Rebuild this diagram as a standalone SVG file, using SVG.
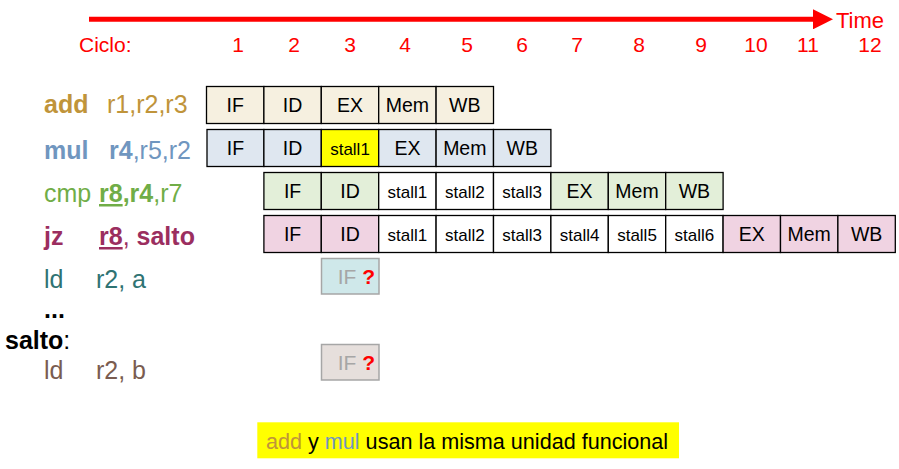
<svg xmlns="http://www.w3.org/2000/svg" width="899" height="469" viewBox="0 0 899 469">
<style>
text{font-family:"Liberation Sans",Arial,sans-serif}
.cyc{fill:#ff0000;font-size:21px;text-anchor:middle}
.ins{font-size:25px}
.b{font-weight:bold}
.u{text-decoration:underline}
.cell{stroke:#000;stroke-width:1.3}
.ct{font-size:19.5px;text-anchor:middle;fill:#000}
.st{font-size:17px;text-anchor:middle;fill:#000}
.qbox{stroke:#a6a6a6;stroke-width:1.5}
.qt{font-size:21px;fill:#a6a6a6;text-anchor:end}
.a{fill:#fff}
.c-add{fill:#f6f0e0}
.c-mul{fill:#dfe7f0}
.c-cmp{fill:#e3efd9}
.c-jz{fill:#f0d3e2}
</style>
<defs>
<marker id="ah" markerWidth="4" markerHeight="4" refX="0" refY="2" orient="auto" markerUnits="strokeWidth">
<path d="M0,0 L4,2 L0,4 Z" fill="#ff0000"/>
</marker>
</defs>
<g id="timeline">
<line x1="89" y1="19.3" x2="813" y2="19.3" stroke="#ff0000" stroke-width="5" marker-end="url(#ah)"/>
<text x="836" y="27.5" fill="#ff0000" font-size="22">Time</text>
<text x="79" y="51.5" fill="#ff0000" font-size="21">Ciclo:</text>
<text class="cyc" x="238" y="51.5">1</text>
<text class="cyc" x="294" y="51.5">2</text>
<text class="cyc" x="350" y="51.5">3</text>
<text class="cyc" x="405" y="51.5">4</text>
<text class="cyc" x="467" y="51.5">5</text>
<text class="cyc" x="522" y="51.5">6</text>
<text class="cyc" x="577" y="51.5">7</text>
<text class="cyc" x="639" y="51.5">8</text>
<text class="cyc" x="701" y="51.5">9</text>
<text class="cyc" x="756" y="51.5">10</text>
<text class="cyc" x="808" y="51.5">11</text>
<text class="cyc" x="870" y="51.5">12</text>
</g>
<g id="instr-add">
<text class="ins" x="44" y="113" fill="#c0943a"><tspan class="b">add</tspan><tspan x="107">r1,r2,r3</tspan></text>
</g>
<g id="instr-mul">
<text class="ins" x="44" y="159" fill="#7096bf"><tspan class="b">mul</tspan><tspan x="109" class="b">r4</tspan>,r5,r2</text>
</g>
<g id="instr-cmp">
<text class="ins" x="44" y="202" fill="#70ad47">cmp <tspan x="99" class="b u">r8</tspan><tspan class="b">,r4</tspan>,r7</text>
</g>
<g id="instr-jz">
<text class="ins" x="44" y="245" fill="#9b2e5f"><tspan class="b">jz</tspan><tspan x="99" class="b u">r8</tspan>, <tspan class="b">salto</tspan></text>
</g>
<g id="instr-ld-a">
<text class="ins" x="44" y="288" fill="#2f7373">ld<tspan x="96">r2, a</tspan></text>
</g>
<g id="dots">
<text class="ins b" x="44" y="318" fill="#000">...</text>
</g>
<g id="label-salto">
<text class="ins" x="5" y="349" fill="#000"><tspan class="b">salto</tspan>:</text>
</g>
<g id="instr-ld-b">
<text class="ins" x="44" y="379" fill="#7a5c50">ld<tspan x="96">r2, b</tspan></text>
</g>
<g id="pipe-add">
<rect class="cell c-add" x="206.5" y="86.5" width="57.4" height="37"/>
<rect class="cell c-add" x="263.9" y="86.5" width="57.4" height="37"/>
<rect class="cell c-add" x="321.3" y="86.5" width="57.4" height="37"/>
<rect class="cell c-add" x="378.7" y="86.5" width="57.4" height="37"/>
<rect class="cell c-add" x="436.1" y="86.5" width="57.4" height="37"/>
<text class="ct" x="235.2" y="112">IF</text>
<text class="ct" x="292.6" y="112">ID</text>
<text class="ct" x="350" y="112">EX</text>
<text class="ct" x="407.4" y="112">Mem</text>
<text class="ct" x="464.8" y="112">WB</text>
</g>
<g id="pipe-mul">
<rect class="cell c-mul" x="207" y="129.5" width="56.9" height="37"/>
<rect class="cell c-mul" x="263.9" y="129.5" width="57.4" height="37"/>
<rect class="cell" fill="#ffff00" x="321.3" y="129.5" width="57.4" height="37"/>
<rect class="cell c-mul" x="378.7" y="129.5" width="57.4" height="37"/>
<rect class="cell c-mul" x="436.1" y="129.5" width="57.4" height="37"/>
<rect class="cell c-mul" x="493.5" y="129.5" width="57.4" height="37"/>
<text class="ct" x="235.4" y="155">IF</text>
<text class="ct" x="292.6" y="155">ID</text>
<text class="st" x="350" y="154.5">stall1</text>
<text class="ct" x="407.4" y="155">EX</text>
<text class="ct" x="464.8" y="155">Mem</text>
<text class="ct" x="522.2" y="155">WB</text>
</g>
<g id="pipe-cmp">
<rect class="cell c-cmp" x="263.9" y="172.5" width="57.4" height="37"/>
<rect class="cell c-cmp" x="321.3" y="172.5" width="57.4" height="37"/>
<rect class="cell a" x="378.7" y="172.5" width="57.4" height="37"/>
<rect class="cell a" x="436.1" y="172.5" width="57.4" height="37"/>
<rect class="cell a" x="493.5" y="172.5" width="57.4" height="37"/>
<rect class="cell c-cmp" x="550.9" y="172.5" width="57.4" height="37"/>
<rect class="cell c-cmp" x="608.3" y="172.5" width="57.4" height="37"/>
<rect class="cell c-cmp" x="665.7" y="172.5" width="57.4" height="37"/>
<text class="ct" x="292.6" y="198">IF</text>
<text class="ct" x="350" y="198">ID</text>
<text class="st" x="407.4" y="197.5">stall1</text>
<text class="st" x="464.8" y="197.5">stall2</text>
<text class="st" x="522.2" y="197.5">stall3</text>
<text class="ct" x="579.6" y="198">EX</text>
<text class="ct" x="637" y="198">Mem</text>
<text class="ct" x="694.4" y="198">WB</text>
</g>
<g id="pipe-jz">
<rect class="cell c-jz" x="263.9" y="215.5" width="57.4" height="37"/>
<rect class="cell c-jz" x="321.3" y="215.5" width="57.4" height="37"/>
<rect class="cell a" x="378.7" y="215.5" width="57.4" height="37"/>
<rect class="cell a" x="436.1" y="215.5" width="57.4" height="37"/>
<rect class="cell a" x="493.5" y="215.5" width="57.4" height="37"/>
<rect class="cell a" x="550.9" y="215.5" width="57.4" height="37"/>
<rect class="cell a" x="608.3" y="215.5" width="57.4" height="37"/>
<rect class="cell a" x="665.7" y="215.5" width="57.4" height="37"/>
<rect class="cell c-jz" x="723.1" y="215.5" width="57.4" height="37"/>
<rect class="cell c-jz" x="780.5" y="215.5" width="57.4" height="37"/>
<rect class="cell c-jz" x="837.9" y="215.5" width="57.4" height="37"/>
<text class="ct" x="292.6" y="241">IF</text>
<text class="ct" x="350" y="241">ID</text>
<text class="st" x="407.4" y="240.5">stall1</text>
<text class="st" x="464.8" y="240.5">stall2</text>
<text class="st" x="522.2" y="240.5">stall3</text>
<text class="st" x="579.6" y="240.5">stall4</text>
<text class="st" x="637" y="240.5">stall5</text>
<text class="st" x="694.4" y="240.5">stall6</text>
<text class="ct" x="751.8" y="241">EX</text>
<text class="ct" x="809.2" y="241">Mem</text>
<text class="ct" x="866.6" y="241">WB</text>
</g>
<g id="pipe-ld-a">
<rect class="qbox" fill="#cfe8ea" x="321.5" y="258.5" width="57.5" height="35.5"/>
<text class="qt" x="375" y="284">IF <tspan fill="#ff0000" font-weight="bold">?</tspan></text>
</g>
<g id="pipe-ld-b">
<rect class="qbox" fill="#e6dfdc" x="321.5" y="344.5" width="57.5" height="35.5"/>
<text class="qt" x="375" y="370">IF <tspan fill="#ff0000" font-weight="bold">?</tspan></text>
</g>
<g id="note">
<rect x="257.3" y="422.3" width="421.7" height="36" fill="#ffff00"/>
<text x="266" y="449" font-size="21.6" fill="#000"><tspan fill="#c0943a">add</tspan> y <tspan fill="#7096bf">mul</tspan> usan la misma unidad funcional</text>
</g>
</svg>
